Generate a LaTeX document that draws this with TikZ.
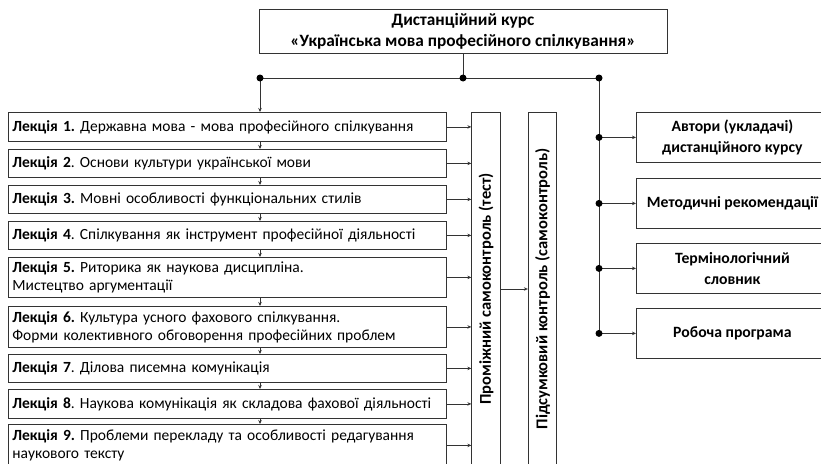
\documentclass[tikz,border=0pt]{standalone}
\usepackage{fontspec}
\setmainfont{Carlito}
\usetikzlibrary{arrows.meta}
\frenchspacing
\begin{document}
\begin{tikzpicture}[x=1pt,y=-1pt,
  line/.style={draw=black!80, line width=0.8pt},
  box/.style={line, inner sep=0pt},
  arr/.style={line, -{Stealth[length=4pt,width=3.5pt]}},
  lec/.style={box, anchor=north west, minimum width=438pt, text width=430pt, align=left, font=\fontsize{15.5}{18}\selectfont},
  sidebox/.style={box, anchor=north west, minimum width=192pt, minimum height=50pt, align=center, font=\bfseries\fontsize{15.7}{21}\selectfont},
  vbox/.style={box, rotate=90, minimum width=354pt, minimum height=28.5pt, font=\bfseries\fontsize{16.5}{18}\selectfont},
  topbox/.style={box, minimum width=408pt, minimum height=44pt, align=center, font=\bfseries\fontsize{17.3}{21}\selectfont},
  dot/.style={fill=black, circle, inner sep=0pt, minimum size=7pt}
]
\useasboundingbox (0,0) rectangle (821,463);
\clip (0,0) rectangle (821,463);

% top box
\node[topbox] (t) at (463,31) {Дистанційний курс\\«Українська мова професійного спілкування»};

% junctions
\coordinate (cl) at (260,78);
\coordinate (cm) at (463,78);
\coordinate (cr) at (599,78);

% lectures
\node[lec, minimum height=29pt] (l1) at (8,112) {\textbf{Лекція 1.} Державна мова - мова професійного спілкування};
\node[lec, minimum height=28pt] (l2) at (8,149) {\textbf{Лекція 2}. Основи культури української мови};
\node[lec, minimum height=28pt] (l3) at (8,185) {\textbf{Лекція 3.} Мовні особливості функціональних стилів};
\node[lec, minimum height=28pt] (l4) at (8,221) {\textbf{Лекція 4}. Спілкування як інструмент професійної діяльності};
\node[lec, minimum height=40pt] (l5) at (8,257) {\textbf{Лекція 5.} Риторика як наукова дисципліна.\\Мистецтво аргументації};
\node[lec, minimum height=41pt] (l6) at (8,306) {\textbf{Лекція 6.} Культура усного фахового спілкування.\\Форми колективного обговорення професійних проблем};
\node[lec, minimum height=28pt] (l7) at (8,354) {\textbf{Лекція 7}. Ділова писемна комунікація};
\node[lec, minimum height=29pt] (l8) at (8,389) {\textbf{Лекція 8}. Наукова комунікація як складова фахової діяльності};
\node[lec, minimum height=42pt] (l9) at (8,424) {\textbf{Лекція 9.} Проблеми перекладу та особливості редагування\\наукового тексту};

% control boxes
\node[vbox] (test) at (486,289) {Проміжний самоконтроль (тест)};
\node[vbox] (fin) at (542.5,289) {Підсумковий контроль (самоконтроль)};

% side boxes
\node[sidebox] (r1) at (636,112) {Автори (укладачі)\\дистанційного курсу};
\node[sidebox] (r2) at (636,178) {Методичні рекомендації};
\node[sidebox] (r3) at (636,243) {Термінологічний\\словник};
\node[sidebox] (r4) at (636,308) {Робоча програма};

% connectors top
\draw[line] (t.south) -- (cm);
\draw[line] (cl) -- (cr);
\draw[arr] (cl) -- (l1.north -| cl);
\foreach \a/\b in {l1/l2,l2/l3,l3/l4,l4/l5,l5/l6,l6/l7,l7/l8,l8/l9}
  \draw[arr] (\a.south -| cl) -- (\b.north -| cl);

% lectures to test
\foreach \n in {l1,l2,l3,l4,l5,l6,l7,l8,l9}
  \draw[arr] (\n.east) -- (\n.east -| test.north);
\draw[arr] (test.south) -- (fin.north);

% right branch
\draw[line] (cr) -- (cr |- r4.west);
\foreach \r in {r1,r2,r3,r4}{
  \draw[arr] (cr |- \r.west) -- (\r.west);
  \node[dot] at (cr |- \r.west) {};
}
\node[dot] at (cl) {};
\node[dot] at (cm) {};
\node[dot] at (cr) {};
\end{tikzpicture}
\end{document}
